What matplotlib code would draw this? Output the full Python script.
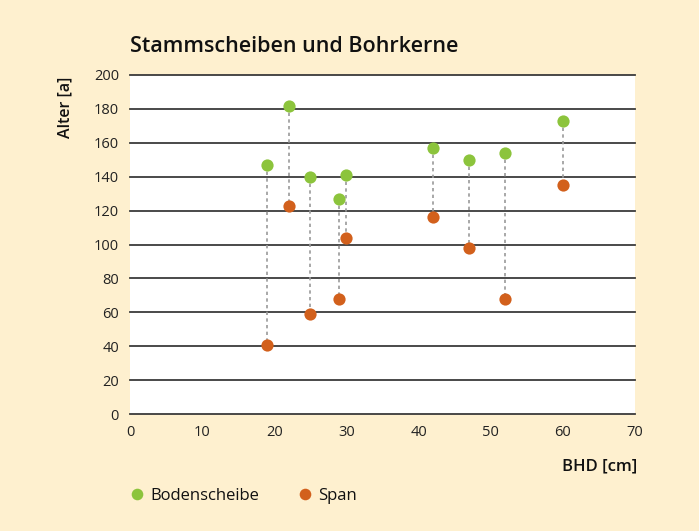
import matplotlib
matplotlib.use('agg')
import matplotlib.pyplot as plt

# BHD [cm] and age [a] per tree
bhd = [19, 22, 25, 29, 30, 42, 47, 52, 60]
bodenscheibe = [147, 182, 140, 127, 141, 157, 150, 154, 173]
span = [41, 123, 59, 68, 104, 116, 98, 68, 135]
y_ticks = [0, 20, 40, 60, 80, 100, 120, 140, 160, 180, 200]
x_ticks = [0, 10, 20, 30, 40, 50, 60, 70]

GREEN = '#8cc43c'
ORANGE = '#d2601c'
CREAM = '#fef0cf'

plt.rcParams['font.family'] = ['Open Sans', 'DejaVu Sans']


def main():
    fig = plt.figure(figsize=(6.99, 5.31), dpi=100, facecolor=CREAM)
    ax = fig.add_axes([130 / 699, 1 - 414 / 531, 505 / 699, 339 / 531])
    ax.set_facecolor('white')

    for x, a, b in zip(bhd, bodenscheibe, span):
        ax.plot([x, x], [a, b], color='#9a9a9a', lw=1.2,
                linestyle=(0, (2, 2)), zorder=2)

    ax.plot(bhd, bodenscheibe, 'o', color=GREEN, ms=8.8, mec='none',
            label='Bodenscheibe', zorder=3)
    ax.plot(bhd, span, 'o', color=ORANGE, ms=8.8, mec='none',
            label='Span', zorder=3)

    ax.set_xlim(0, 70)
    ax.set_ylim(0, 200)
    ax.set_xticks(x_ticks)
    ax.set_yticks(y_ticks)
    ax.tick_params(length=0, labelsize=10.5, colors='#222222')
    ax.tick_params(axis='x', pad=8)
    ax.tick_params(axis='y', pad=8)
    for y in y_ticks:
        ax.axhline(y, color='#3a3a3a', lw=1.3, zorder=1, clip_on=False)
    for s in ax.spines.values():
        s.set_visible(False)

    fig.text(130 / 699, 1 - 47 / 531, 'Stammscheiben und Bohrkerne',
             fontsize=15.5, fontweight='semibold', va='center', ha='left',
             color='#111111')
    fig.text(65 / 699, 1 - 107 / 531, 'Alter [a]', rotation=90,
             fontsize=11.5, fontweight='semibold', va='center', ha='center',
             color='#111111')
    fig.text(637 / 699, 1 - 466 / 531, 'BHD [cm]', fontsize=12,
             fontweight='semibold', va='center', ha='right', color='#111111')

    leg = fig.legend(loc='center left', bbox_to_anchor=(114 / 699, 1 - 496 / 531),
                     ncol=2, frameon=False, fontsize=12, handletextpad=0.3,
                     columnspacing=2.2, handlelength=1.0, markerscale=0.95)
    for t in leg.get_texts():
        t.set_color('#111111')

    fig.savefig('out.png', dpi=100, facecolor=CREAM)


if __name__ == '__main__':
    main()
